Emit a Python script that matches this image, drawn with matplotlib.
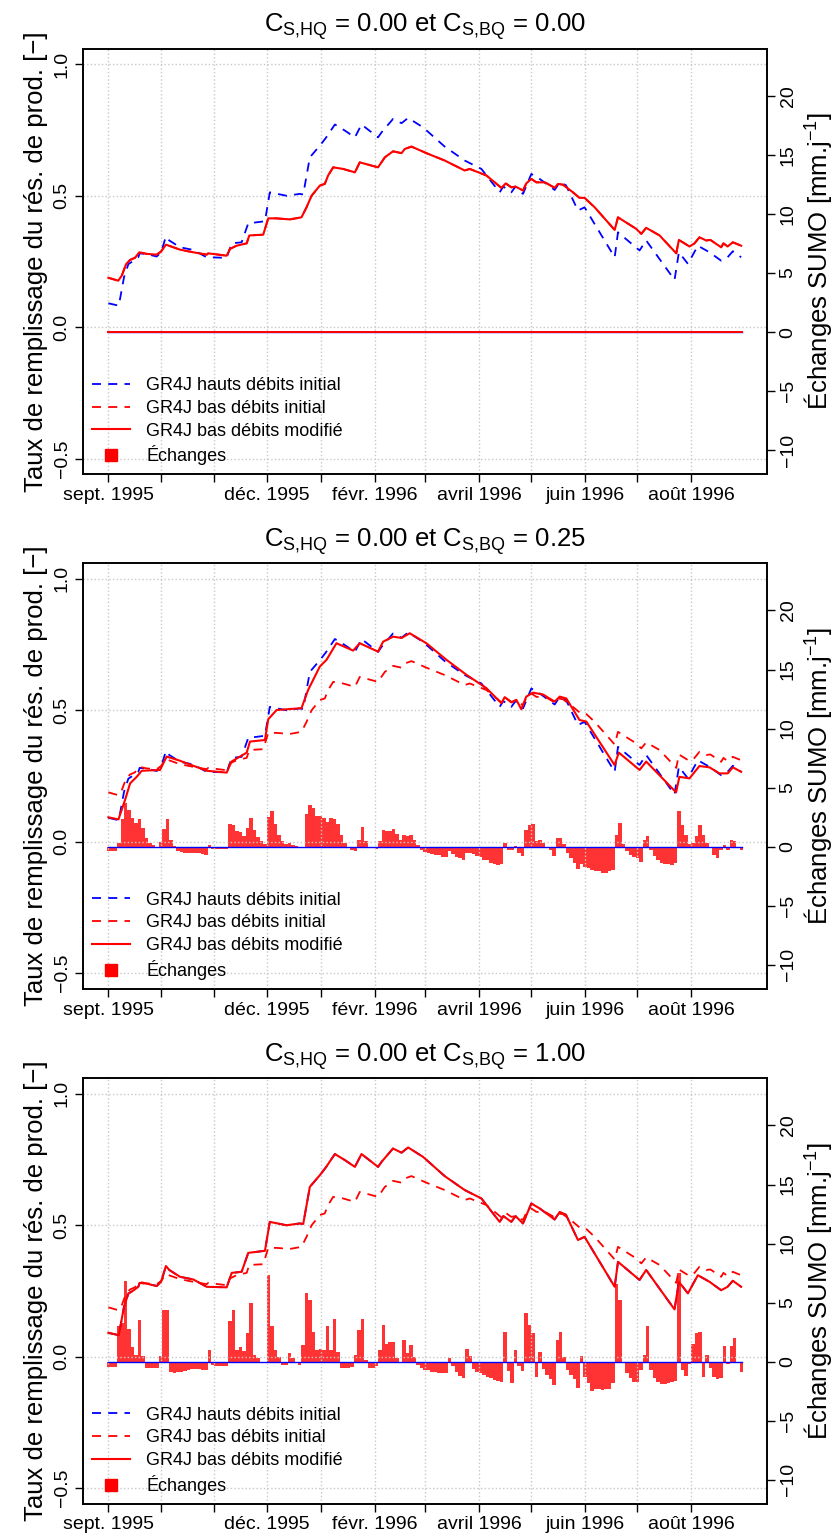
import matplotlib.pyplot as plt
from matplotlib.lines import Line2D
import numpy as np
import pandas as pd

plt.rcParams['font.family'] = ['Liberation Sans', 'DejaVu Sans']
plt.rcParams['mathtext.fontset'] = 'custom'
plt.rcParams['mathtext.rm'] = 'Liberation Sans'
plt.rcParams['mathtext.it'] = 'Liberation Sans:italic'

# days since 1 sept. 1995
hq_days = [0, 6, 9, 11.5, 15, 17.2, 18, 22, 27.8, 30.3, 33.1, 35, 41.2, 48.8, 56.5, 68,
           70.9, 76.6, 80.4, 90, 92.8, 102.4, 110, 112, 115.8, 121.6, 125, 130.2, 135.9,
           141.7, 145.5, 155, 157, 163.6, 168.5, 172.3, 180.9, 193.3, 204.8, 214.4, 224.9,
           227, 231.6, 234, 238.3, 243.1, 247.9, 256.5, 259.4, 263, 269.9, 273.7, 291,
           292.9, 305.3, 309.1, 325.4, 327.9, 333.1, 338.8, 345.5, 352.2, 355.9, 358.9, 363.7]
hq_vals = [0.091, 0.082, 0.19, 0.24, 0.255, 0.266, 0.281, 0.278, 0.269, 0.285, 0.345, 0.33,
           0.304, 0.294, 0.266, 0.264, 0.319, 0.323, 0.395, 0.403, 0.513, 0.50, 0.507, 0.505,
           0.646, 0.691, 0.72, 0.771, 0.748, 0.722, 0.771, 0.722, 0.741, 0.792, 0.776, 0.796,
           0.76, 0.687, 0.634, 0.602, 0.513, 0.535, 0.513, 0.535, 0.507, 0.583, 0.564, 0.522,
           0.551, 0.54, 0.444, 0.456, 0.266, 0.361, 0.292, 0.33, 0.18, 0.285, 0.241, 0.31,
           0.285, 0.253, 0.266, 0.289, 0.266]

bq_days = [0, 5.7, 7.7, 10.2, 12.5, 15.3, 17.8, 22, 27.8, 30.3, 33.1, 41.2, 48.8, 56.5, 57.4,
           68, 69.9, 73.7, 79.5, 81, 89, 91.9, 96.7, 104.3, 111, 113.9, 116.8, 121.6, 124.4,
           126.3, 129.2, 134.9, 141.7, 144.5, 155, 158.9, 163.6, 168.5, 170.4, 174.2, 182.8,
           193.3, 204.8, 207.7, 217.3, 225.9, 228.4, 231.6, 234, 238.3, 240.2, 243.1, 246,
           251, 256.5, 258.4, 261.3, 267, 270.8, 273.7, 279.5, 291, 292.9, 303.4, 306.3,
           309.1, 316.8, 326.4, 327.9, 334, 336.9, 339.7, 343.6, 346, 352.2, 353.5, 355.9,
           358.9, 363.7]
bq_vals = [0.188, 0.177, 0.196, 0.24, 0.256, 0.264, 0.285, 0.279, 0.276, 0.288, 0.314, 0.295,
           0.285, 0.276, 0.281, 0.272, 0.298, 0.31, 0.319, 0.349, 0.352, 0.414, 0.414, 0.41,
           0.418, 0.456, 0.50, 0.539, 0.545, 0.577, 0.608, 0.602, 0.589, 0.627, 0.608, 0.646,
           0.669, 0.662, 0.678, 0.687, 0.662, 0.634, 0.596, 0.602, 0.577, 0.53, 0.547, 0.532,
           0.535, 0.52, 0.547, 0.564, 0.551, 0.551, 0.53, 0.545, 0.542, 0.513, 0.492, 0.492,
           0.456, 0.37, 0.418, 0.374, 0.355, 0.378, 0.349, 0.281, 0.332, 0.307, 0.319, 0.342,
           0.33, 0.332, 0.304, 0.319, 0.307, 0.323, 0.31]

mod25_days = [0, 5.8, 9.6, 12.5, 16.3, 19.2, 29.7, 33.5, 41.2, 56.5, 68, 70.8, 79.5, 81.4, 90,
              91.9, 96.7, 111, 114.8, 121.5, 125.4, 131.1, 140.7, 144.5, 155, 157.9, 163.7,
              168.5, 173.2, 182.8, 194.3, 205.8, 217.3, 225.9, 227.8, 231.6, 234.5, 237.3,
              240.2, 244.1, 249.8, 256.5, 259.4, 263.2, 270.8, 274.7, 290.9, 293.4, 305.3,
              309.1, 326.3, 328.2, 334, 339.7, 345.5, 351.2, 356, 358.9, 363.7]
mod25_vals = [0.093, 0.085, 0.159, 0.222, 0.247, 0.27, 0.273, 0.324, 0.308, 0.27, 0.263, 0.305,
              0.339, 0.381, 0.387, 0.466, 0.501, 0.508, 0.577, 0.666, 0.692, 0.755, 0.727,
              0.755, 0.723, 0.761, 0.78, 0.775, 0.793, 0.755, 0.692, 0.635, 0.584, 0.527, 0.55,
              0.53, 0.54, 0.504, 0.552, 0.567, 0.56, 0.533, 0.552, 0.545, 0.463, 0.457, 0.292,
              0.339, 0.273, 0.305, 0.188, 0.247, 0.241, 0.288, 0.283, 0.26, 0.26, 0.283, 0.266]

# with C_S,BQ = 1.00 the modified low-flow curve sits on the high-flow one
mod100_days = hq_days
mod100_vals = hq_vals

# exchanges [mm/j], one value every 2 days
ex_days = list(range(0, 365, 2))
ex00 = [0.0] * len(ex_days)
ex25 = [-0.4, -0.4, -0.4, 0.3, 2.3, 3.7, 3.1, 2.4, 2.0, 2.3,
        1.6, 0.7, 0.3, 0.15, -0.05, 0.4, 1.5, 2.3, 0.6, 0.05,
        -0.4, -0.45, -0.5, -0.5, -0.55, -0.55, -0.55, -0.6, -0.7, 0.15,
        -0.2, -0.2, -0.2, -0.2, -0.2, 1.9, 1.8, 1.3, 1.25, 0.9,
        1.6, 2.4, 1.4, 0.8, 0.45, 0.2, 2.5, 3.0, 1.9, 1.0,
        0.5, 0.2, 0.3, 0.15, 0.05, 0.0, 0.0, 2.8, 3.5, 3.3,
        2.6, 2.6, 2.4, 2.1, 2.4, 2.3, 1.9, 1.0, 0.3, 0.0,
        -0.25, -0.4, 0.6, 1.7, 0.5, -0.05, -0.1, -0.2, 0.5, 1.4,
        1.3, 1.3, 1.5, 1.1, 0.6, 1.0, 0.9, 1.0, 0.6, 0.1,
        -0.3, -0.45, -0.55, -0.6, -0.7, -0.7, -0.85, -0.85, -0.4, -0.6,
        -0.85, -1.0, -1.1, -0.5, -0.5, -0.6, -0.8, -0.9, -1.1, -1.15,
        -1.35, -1.45, -1.55, -1.5, 0.3, -0.3, -0.3, 0.05, -0.55, -0.8,
        1.4, 1.8, 1.9, 0.5, 0.6, 0.3, -0.1, -0.3, -0.8, 0.7,
        0.7, 0.2, -0.5, -1.0, -1.4, -1.9, -1.45, -1.7, -1.8, -2.0,
        -2.1, -2.1, -2.2, -2.2, -2.1, -2.0, 1.0, 2.0, 0.2, -0.4,
        -0.7, -0.9, -1.0, -1.3, 0.6, 0.9, -0.3, -0.8, -1.1, -1.4,
        -1.45, -1.5, -1.55, -1.4, 3.0, 1.8, 1.0, 0.2, 0.3, 0.9,
        1.8, 1.0, 0.3, 0.0, -0.7, -1.0, -0.3, 0.1, -0.3, 0.6,
        0.5, 0.0, -0.3]
ex100 = [-0.42, -0.42, -0.42, 3.0, 3.3, 6.8, 2.8, 1.2, 0.6, 3.5,
         0.5, -0.57, -0.57, -0.57, -0.5, 0.5, 4.4, 4.4, -0.9, -1.0,
         -0.9, -0.9, -0.8, -0.7, -0.65, -0.65, -0.65, -0.7, -0.7, 1.0,
         -0.3, -0.37, -0.37, -0.37, -0.37, 3.4, 4.4, 1.0, 1.2, 0.9,
         2.4, 4.95, 0.6, 0.3, -0.15, 0.0, 7.3, 3.0, 1.0, 0.4,
         -0.3, -0.3, 0.7, 0.3, -0.1, -0.3, 1.4, 5.8, 5.2, 2.5,
         1.0, 1.1, 1.0, 3.0, 1.0, 3.6, 0.8, -0.5, -0.57, -0.57,
         -0.42, 0.6, 2.7, 3.6, 0.1, -0.55, -0.5, -0.35, 1.0, 3.1,
         1.5, 1.7, 1.7, 0.3, -0.15, 1.8, 0.7, 1.4, 0.4, -0.3,
         -0.55, -0.7, -0.75, -0.85, -0.9, -0.95, -0.95, -1.0, 0.3, -0.4,
         -0.85, -1.2, -1.4, 1.05, 0.5, -0.6, -0.85, -0.95, -1.1, -1.3,
         -1.4, -1.55, -1.6, -1.75, 2.5, -0.8, -1.85, 1.0, -0.4, -0.8,
         4.1, 3.1, 2.4, -1.3, 0.8, -0.6, -1.1, -1.5, -2.0, 1.85,
         2.5, 0.4, -0.7, -1.1, -1.5, -2.26, 0.5, -1.3, -1.85, -2.5,
         -2.3, -2.35, -2.4, -2.35, -2.3, -1.8, 6.6, 5.2, -0.15, -1.0,
         -1.4, -1.7, -1.7, -0.7, 0.6, 3.0, -0.7, -1.4, -1.7, -1.9,
         -1.9, -1.8, -1.75, -1.6, 7.5, -0.7, -1.2, -0.2, 1.5, 2.4,
         2.5, -1.3, 0.6, -0.5, -1.3, -1.5, -1.4, 1.3, -0.2, 1.3,
         2.0, 0.0, -0.9]

titles = [r"C$_{\mathregular{S{,}HQ}}$ = 0.00 et C$_{\mathregular{S{,}BQ}}$ = 0.00",
          r"C$_{\mathregular{S{,}HQ}}$ = 0.00 et C$_{\mathregular{S{,}BQ}}$ = 0.25",
          r"C$_{\mathregular{S{,}HQ}}$ = 0.00 et C$_{\mathregular{S{,}BQ}}$ = 1.00"]
mod_series = [(bq_days, bq_vals), (mod25_days, mod25_vals), (mod100_days, mod100_vals)]
ex_series = [ex00, ex25, ex100]

months = pd.date_range("1995-09-01", "1996-08-01", freq="MS")
month_pos = (months - months[0]).days
month_labels = ["sept. 1995", "", "", "déc. 1995", "", "févr. 1996", "",
                "avril 1996", "", "juin 1996", "", "août 1996"]

legend_labels = ["GR4J hauts débits initial", "GR4J bas débits initial",
                 "GR4J bas débits modifié", "Échanges"]

fig = plt.figure(figsize=(8.36, 15.35), dpi=100)
bottoms = [0.6909, 0.3557, 0.0202]
dash = (0, (5, 4))

for k in range(3):
    ax = fig.add_axes([0.0993, bottoms[k], 0.8182, 0.2775])
    ax2 = ax.twinx()
    ax.set_zorder(ax2.get_zorder() + 1)
    ax.patch.set_visible(False)

    ex = ex_series[k]
    ax2.bar(ex_days, ex, width=2.0, color="red", alpha=0.8, linewidth=0)
    ax2.plot([ex_days[0], ex_days[-1]], [0, 0], color="blue", lw=1.0)
    if not any(ex):
        ax2.plot([ex_days[0], ex_days[-1]], [0, 0], color="red", lw=1.4)
    ax2.set_ylim(-12.06, 24.02)
    ax2.set_yticks([-10, -5, 0, 5, 10, 15, 20])
    ax2.set_yticklabels(["\u221210", "\u22125", "0", "5", "10", "15", "20"])
    ax2.tick_params(axis="y", length=6, width=1, labelsize=14, pad=3)
    for t in ax2.get_yticklabels():
        t.set_rotation(90)
        t.set_va("center")
    ax2.set_ylabel(r"Échanges SUMO [mm.j$^{\mathregular{-1}}$]", fontsize=18.5,
                   labelpad=4)

    ax.grid(True, color="#c8c8c8", linestyle=":", linewidth=1.0)
    ax.plot(hq_days, hq_vals, color="blue", lw=1.3, linestyle=dash)
    ax.plot(bq_days, bq_vals, color="red", lw=1.3, linestyle=dash)
    md, mv = mod_series[k]
    ax.plot(md, mv, color="red", lw=1.5)

    ax.set_xlim(-14.56, 378.56)
    ax.set_ylim(-0.56, 1.06)
    ax.set_xticks(month_pos)
    ax.set_xticklabels(month_labels)
    ax.set_yticks([-0.5, 0.0, 0.5, 1.0])
    ax.set_yticklabels(["\u22120.5", "0.0", "0.5", "1.0"])
    ax.tick_params(axis="both", length=6, width=1, labelsize=14, pad=3)
    for t in ax.get_yticklabels():
        t.set_rotation(90)
        t.set_va("center")
    ax.set_ylabel("Taux de remplissage du rés. de prod. [\u2212]", fontsize=18.5,
                  labelpad=4)
    ax.set_title(titles[k], fontsize=18.5, pad=12)
    for s in list(ax.spines.values()) + list(ax2.spines.values()):
        s.set_linewidth(1.2)

    handles = [Line2D([], [], color="blue", lw=1.3, linestyle=dash),
               Line2D([], [], color="red", lw=1.3, linestyle=dash),
               Line2D([], [], color="red", lw=1.5),
               Line2D([], [], color="red", marker="s", markersize=9, linestyle="none")]
    ax.legend(handles, legend_labels, loc="lower left", frameon=False, fontsize=13,
              handlelength=2.1, handletextpad=0.9, labelspacing=0.32,
              borderaxespad=0.2, borderpad=0.3, bbox_to_anchor=(0.0, 0.0))

fig.savefig("out.png", dpi=100)
